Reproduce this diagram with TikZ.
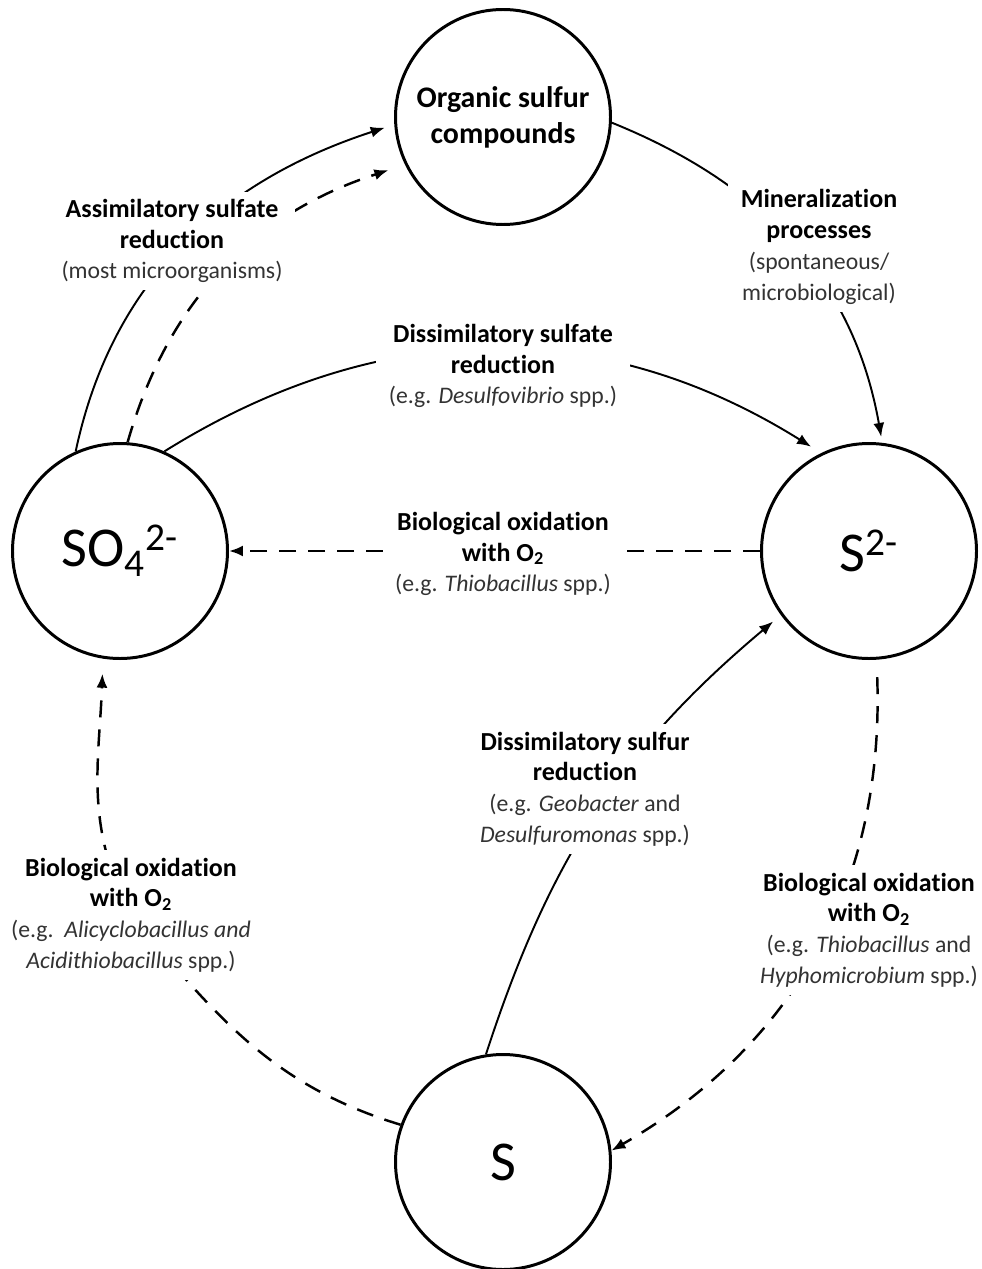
\documentclass[tikz,border=0pt]{standalone}
\usepackage{fontspec}
\setmainfont{Carlito}[Ligatures=NoCommon]
\usetikzlibrary{arrows.meta,backgrounds}
\definecolor{note}{gray}{0.2}
\newcommand{\hd}[1]{{\bfseries\fontsize{14.8}{17.5}\selectfont #1}}
\newcommand{\nt}[1]{\textcolor{note}{#1}}
\tikzset{
  pool/.style={draw, circle, line width=1.7pt, minimum size=43mm, inner sep=0pt},
  lbl/.style={fill=white, align=center, inner xsep=2.5mm, inner ysep=1.5mm, font=\fontsize{13.5}{17.5}\selectfont},
  flow/.style={line width=1.1pt, -{Latex[length=2.8mm,width=2.2mm]}},
  oxflow/.style={flow, line width=1.4pt, dash pattern=on 3.4mm off 2.4mm},
}

\begin{document}
\begin{tikzpicture}[x=0.2mm, y=-0.2mm]
\useasboundingbox (0,0) rectangle (981,1269);
\node[pool, align=center, font=\bfseries\fontsize{17}{20.5}\selectfont] (org) at (503,117) {Organic sulfur\\compounds};
\node[pool, font=\fontsize{32}{32}\selectfont] (so4) at (120,551) {SO\textsubscript{4}\textsuperscript{2-}};
\node[pool, font=\fontsize{32}{32}\selectfont] (s2) at (869,551) {S\textsuperscript{2-}};
\node[pool, font=\fontsize{32}{32}\selectfont] (s) at (503,1162) {S};

\node[lbl] (assim) at (172,241) {\hd{Assimilatory sulfate}\\\hd{reduction}\\\nt{(most microorganisms)}};
\node[lbl] (miner) at (819,247) {\hd{Mineralization}\\\hd{processes}\\\nt{(spontaneous/}\\\nt{microbiological)}};
\node[lbl] (dsulf) at (503,366) {\hd{Dissimilatory sulfate}\\\hd{reduction}\\\nt{(e.g. \textit{Desulfovibrio} spp.)}};
\node[lbl] (oxmid) at (503,554) {\hd{Biological oxidation}\\\hd{with O\textsubscript{2}}\\\nt{(e.g. \textit{Thiobacillus} spp.)}};
\node[lbl] (oxleft) at (131,915) {\hd{Biological oxidation}\\\hd{with O\textsubscript{2}}\\\nt{(e.g.\ \ \textit{Alicyclobacillus and}}\\\nt{\textit{Acidithiobacillus} spp.)}};
\node[lbl] (dsred) at (585,789) {\hd{Dissimilatory sulfur}\\\hd{reduction}\\\nt{(e.g. \textit{Geobacter} and}\\\nt{\textit{Desulfuromonas} spp.)}};
\node[lbl] (oxright) at (869,930) {\hd{Biological oxidation}\\\hd{with O\textsubscript{2}}\\\nt{(e.g. \textit{Thiobacillus} and}\\\nt{\textit{Hyphomicrobium} spp.)}};

\begin{scope}[on background layer]
\draw[flow, shorten >=2mm] (so4.114) to[out=78,in=198] (org.184);
\draw[oxflow, shorten >=3.5mm] (so4.86) to[out=74,in=198] (org.206);
\draw[flow, shorten >=1.2mm] (org.-3) to[out=-22,in=100] (s2.83);
\draw[flow, shorten >=2.4mm] (so4.66) to[out=32,in=148] (s2.116);
\draw[oxflow] (s2.180) -- (so4.0);
\draw[oxflow, shorten >=3mm] (s.160) to[out=163,in=-50] (oxleft.center) to[out=118,in=-92] (so4.-99);
\draw[flow, shorten >=2mm] (s.99) to[out=72,in=220] (s2.216);
\draw[oxflow, shorten <=3.5mm] (s2.-86) to[out=-88,in=30] (s.6);
\end{scope}
\end{tikzpicture}
\end{document}
